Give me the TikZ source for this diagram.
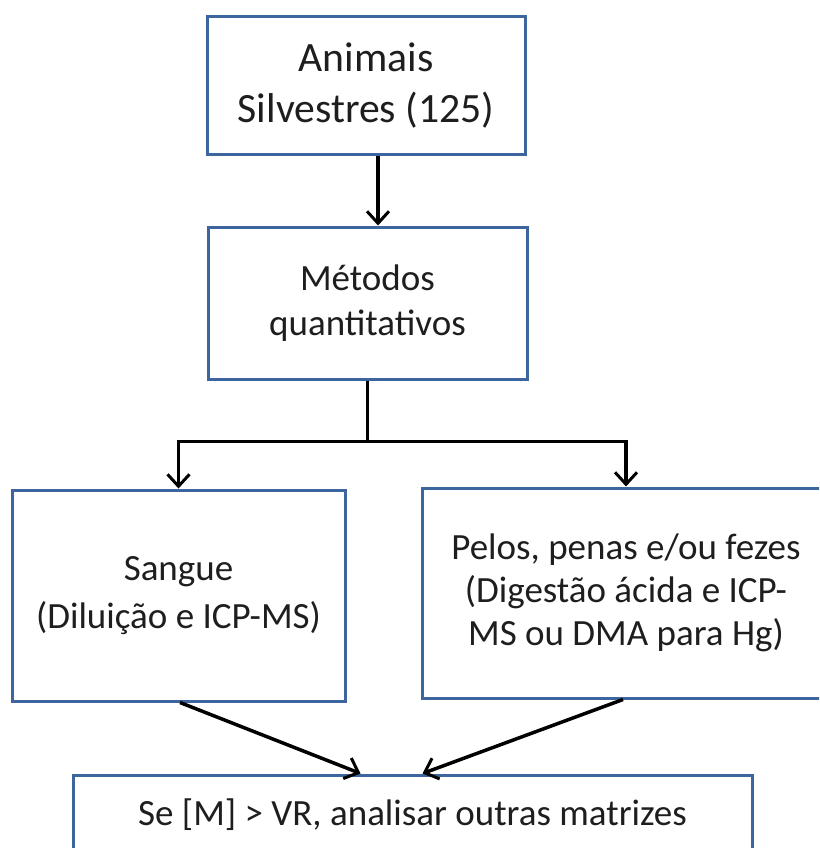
\documentclass[tikz,border=0pt]{standalone}
\usepackage{fontspec}
\setmainfont{Carlito}
\usetikzlibrary{arrows.meta,calc}
\definecolor{bord}{RGB}{62,102,158}
\definecolor{txt}{RGB}{30,30,30}
\begin{document}
\begin{tikzpicture}[x=1pt,y=-1pt,
  box/.style={draw=bord,line width=3pt,fill=white,align=center,text=txt,inner sep=0pt},
  big/.style={font=\fontsize{41.7}{51}\selectfont},
  norm/.style={font=\fontsize{37}{45}\selectfont},
  arr/.style={draw=black,line width=3.5pt,-{Straight Barb[length=12pt,width=22pt,line width=3pt]}}]
\useasboundingbox (0,0) rectangle (819,848);
\clip (0,0) rectangle (819,848);
\fill[white] (0,0) rectangle (819,848);
\node[box,big,minimum width=318pt,minimum height=137pt] (box1) at (366,85.5) {Animais\\Silvestres (125)};
\node[box,norm,minimum width=319pt,minimum height=152pt] (box2) at (367.5,303) {Métodos\\quantitativos};
\node[box,font=\fontsize{37}{48}\selectfont,minimum width=333pt,minimum height=211pt] (box3) at (178.5,595.5) {Sangue\\(Diluição e ICP-MS)};
\node[box,font=\fontsize{37}{43}\selectfont,minimum width=420pt,minimum height=210pt] (box4) at (632,593) {\hspace*{-12pt}Pelos, penas e/ou fezes\\\hspace*{-12pt}(Digestão ácida e ICP-\\\hspace*{-12pt}MS ou DMA para Hg)};
\node[box,norm,minimum width=679pt,minimum height=80pt] (box5) at (412.5,815) {Se [M] > VR, analisar outras matrizes};
\draw[arr] ([xshift=12pt]box1.south) -- ([xshift=10.5pt]box2.north);
\draw[arr] (box2.south) -- ++(0,61) -| ([xshift=-6pt]box4.north);
\draw[arr] (box2.south) -- ++(0,61) -| (box3.north);
\draw[arr] ([xshift=1.5pt]box3.south) -- ($(box5.north)+(-52,0)$);
\draw[arr] ([xshift=-9pt]box4.south) -- ($(box5.north)+(10,0)$);
\end{tikzpicture}
\end{document}
